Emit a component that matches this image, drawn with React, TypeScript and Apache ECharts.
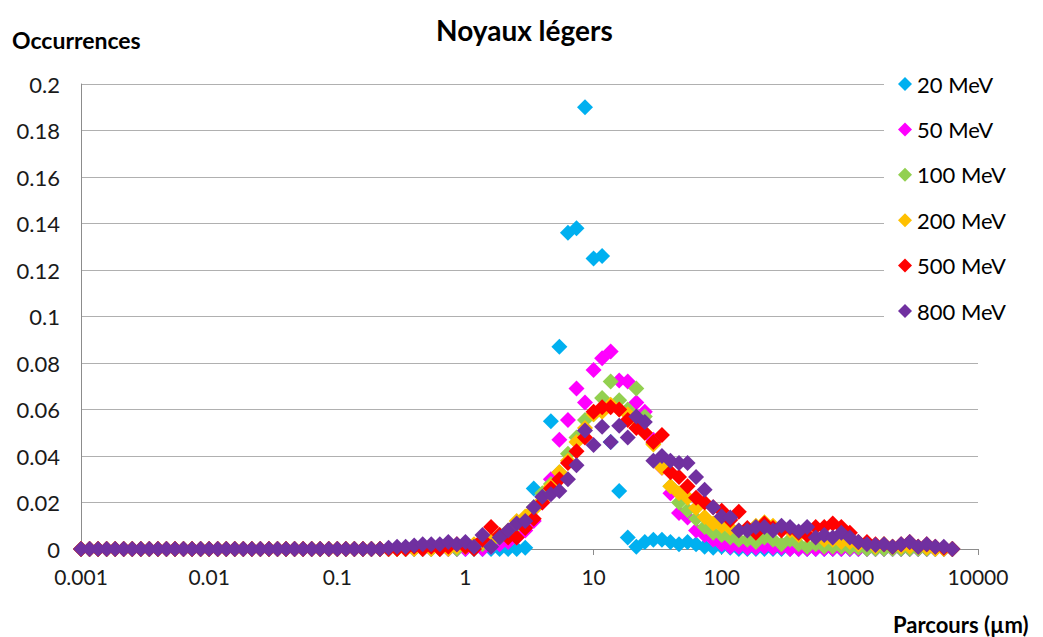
import React, { useEffect, useRef } from 'react';
import * as echarts from 'echarts';

// ---- data ----
const xTickLabels = ['0.001', '0.01', '0.1', '1', '10', '100', '1000', '10000'];
const seriesNames = ['20 MeV', '50 MeV', '100 MeV', '200 MeV', '500 MeV', '800 MeV'];
const seriesColors = ['#00B0F0', '#FF00FF', '#92D050', '#FFC000', '#FF0000', '#7030A0'];

// log-spaced range bins: 15 per decade starting at 0.001
const FIRST_EXPONENT = -3;
const BINS_PER_DECADE = 15;
const BIN_COUNT = 103;
// all series read as 0 below this bin; arrays below start at this bin
const FIRST_READ_BIN = 36;

const mev20 = [
  0, 0, 0, 0, 0, 0, 0, 0, 0, 0, 0, 0, 0, 0, 0, 0,
  0.0005, 0.026, 0.0225, 0.055, 0.087, 0.136, 0.138, 0.19, 0.125, 0.126, 0.046, 0.025, 0.005,
  0.001, 0.003, 0.004, 0.004, 0.003, 0.002, 0.003, 0.002, 0.001, 0.0005, 0.001, 0.0005,
  0, 0, 0, 0, 0, 0, 0, 0, 0, 0, 0, 0, 0, 0, 0, 0, 0, 0, 0, 0, 0, 0, 0, 0, 0, 0,
];
const mev50 = [
  0, 0, 0, 0, 0, 0, 0, 0, 0,
  0, 0.001, 0, 0.001, 0.002, 0.003, 0.005, 0.008, 0.012, 0.02, 0.03, 0.047, 0.0555, 0.069,
  0.063, 0.077, 0.082, 0.085, 0.0725, 0.072, 0.063, 0.059, 0.047, 0.035, 0.024, 0.0155, 0.0135,
  0.008, 0.006, 0.004, 0.002, 0.001, 0.001, 0.0005, 0.0005, 0.001, 0.0005, 0.0005,
  0, 0, 0, 0, 0, 0, 0, 0, 0, 0, 0, 0, 0, 0, 0, 0, 0, 0, 0, 0,
];
const mev100 = [
  0, 0, 0, 0, 0, 0, 0, 0.001, 0,
  0.001, 0.001, 0.002, 0.003, 0.005, 0.007, 0.01, 0.012, 0.018, 0.024, 0.028, 0.033, 0.041,
  0.048, 0.0555, 0.058, 0.065, 0.072, 0.064, 0.06, 0.069, 0.057, 0.0455, 0.036, 0.027, 0.02,
  0.0167, 0.013, 0.0095, 0.007, 0.006, 0.005, 0.004, 0.004, 0.003, 0.005, 0.004, 0.002, 0.004,
  0.002, 0.001, 0.002, 0.001, 0.001, 0.001, 0.0005, 0.0005,
  0, 0, 0, 0, 0, 0, 0, 0, 0, 0, 0,
];
const mev200 = [
  0, 0, 0, 0, 0.0005, 0, 0.001, 0, 0.001,
  0.001, 0.002, 0.003, 0.004, 0.006, 0.008, 0.012, 0.014, 0.017, 0.021, 0.027, 0.033, 0.038,
  0.046, 0.052, 0.058, 0.059, 0.062, 0.06, 0.058, 0.055, 0.05, 0.045, 0.035, 0.027, 0.024,
  0.022, 0.0176, 0.0138, 0.011, 0.01, 0.009, 0.008, 0.0085, 0.01, 0.0115, 0.01, 0.009, 0.008,
  0.006, 0.006, 0.005, 0.004, 0.004, 0.003, 0.003, 0.002, 0.002, 0.001, 0.002, 0.001, 0.001,
  0.001, 0.001, 0.0005, 0, 0, 0,
];
const mev500 = [
  0, 0, 0, 0.001, 0, 0.001, 0, 0.001, 0.002,
  0.001, 0, 0.004, 0.0095, 0.006, 0.005, 0.005, 0.009, 0.013, 0.02, 0.026, 0.03, 0.037,
  0.042, 0.048, 0.059, 0.061, 0.061, 0.06, 0.0555, 0.052, 0.05, 0.046, 0.049, 0.033, 0.031,
  0.027, 0.022, 0.02, 0.018, 0.0165, 0.0125, 0.016, 0.009, 0.007, 0.011, 0.009, 0.008, 0.009,
  0.007, 0.006, 0.0095, 0.0095, 0.011, 0.0095, 0.007, 0.003, 0.003, 0.002, 0.002, 0.001, 0.002,
  0.003, 0.001, 0.002, 0.001, 0.0005, 0,
];
const mev800 = [
  0.0005, 0.001, 0.001, 0.0015, 0.002, 0.002, 0.002, 0.003, 0.002,
  0.003, 0.001, 0.006, 0.001, 0.005, 0.008, 0.011, 0.012, 0.018, 0.0225, 0.0235, 0.025, 0.03,
  0.036, 0.051, 0.0447, 0.0526, 0.046, 0.053, 0.048, 0.057, 0.0546, 0.038, 0.04, 0.038, 0.037,
  0.037, 0.031, 0.0255, 0.018, 0.014, 0.0135, 0.008, 0.008, 0.0095, 0.0095, 0.008, 0.01, 0.0095,
  0.0075, 0.0095, 0.005, 0.006, 0.005, 0.007, 0.005, 0.003, 0.002, 0.0017, 0.002, 0.001, 0.002,
  0.003, 0.001, 0.002, 0.001, 0.001, 0,
];
const seriesValues = [mev20, mev50, mev100, mev200, mev500, mev800];

const FONT = 'Lato, "Open Sans", sans-serif';

function toPoints(vals: number[]): number[][] {
  const pts: number[][] = [];
  for (let k = 0; k < BIN_COUNT; k++) {
    const x = Math.pow(10, FIRST_EXPONENT + k / BINS_PER_DECADE);
    const y = k < FIRST_READ_BIN ? 0 : vals[k - FIRST_READ_BIN] ?? 0;
    pts.push([x, y]);
  }
  return pts;
}

export default function App() {
  const ref = useRef<HTMLDivElement>(null);
  useEffect(() => {
    if (!ref.current) return;
    const chart = echarts.init(ref.current, null, { renderer: 'svg' });
    chart.setOption({
      animation: false,
      backgroundColor: '#ffffff',
      title: {
        text: 'Noyaux légers',
        left: 431,
        top: 11,
        textStyle: { fontFamily: FONT, fontSize: 28, fontWeight: 'bold', color: '#000' },
      },
      graphic: [
        {
          type: 'text',
          left: 12,
          top: 28,
          style: { text: 'Occurrences', font: 'bold 23px ' + FONT, fill: '#000' },
        },
        {
          type: 'text',
          left: 893,
          top: 613,
          style: { text: 'Parcours (µm)', font: 'bold 22px ' + FONT, fill: '#000' },
        },
      ],
      legend: {
        orient: 'vertical',
        left: 884,
        top: 63,
        padding: [10, 60, 10, 14],
        itemGap: 23.4,
        itemWidth: 14,
        itemHeight: 14,
        icon: 'diamond',
        backgroundColor: '#ffffff',
        textStyle: { fontFamily: FONT, fontSize: 22, color: '#000', lineHeight: 22 },
        data: seriesNames,
      },
      grid: { left: 81, right: 65, top: 84, bottom: 88, containLabel: false },
      xAxis: {
        type: 'log',
        logBase: 10,
        min: 0.001,
        max: 10000,
        splitLine: { show: false },
        axisLine: { show: true, lineStyle: { color: '#8c8c8c', width: 1 } },
        axisTick: { show: true, length: 6, lineStyle: { color: '#8c8c8c' } },
        axisLabel: {
          margin: 17,
          fontFamily: FONT,
          fontSize: 21,
          color: '#1a1a1a',
          formatter: (v: number) => xTickLabels[Math.round(Math.log10(v)) - FIRST_EXPONENT] ?? '',
        },
      },
      yAxis: {
        type: 'value',
        min: 0,
        max: 0.2,
        interval: 0.02,
        axisLine: { show: true, lineStyle: { color: '#8c8c8c', width: 1 } },
        axisTick: { show: false },
        splitLine: { show: true, lineStyle: { color: '#b0b0b0', width: 1 } },
        axisLabel: {
          margin: 21,
          fontFamily: FONT,
          fontSize: 22,
          color: '#1a1a1a',
          formatter: (v: number) => String(parseFloat(v.toFixed(2))),
        },
      },
      series: seriesNames.map((name, i) => ({
        name,
        type: 'scatter',
        symbol: 'diamond',
        symbolSize: 16,
        itemStyle: { color: seriesColors[i], opacity: 1 },
        data: toPoints(seriesValues[i]),
      })),
    });
    return () => chart.dispose();
  }, []);
  return (
    <div
      ref={ref}
      style={{ position: 'fixed', left: 0, top: 0, width: 1043, height: 637, background: '#fff' }}
    />
  );
}
